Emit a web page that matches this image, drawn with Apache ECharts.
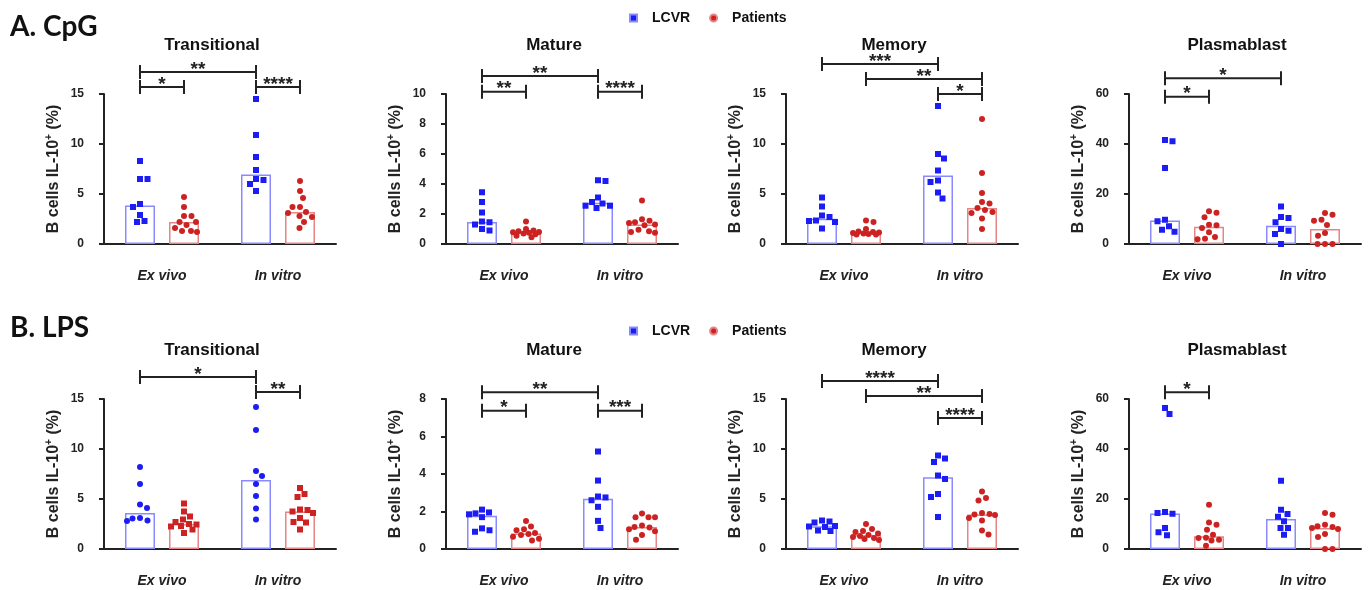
<!DOCTYPE html>
<html>
<head>
<meta charset="utf-8">
<script src="https://cdn.jsdelivr.net/npm/echarts@6/dist/echarts.min.js"></script>
<style>html,body{margin:0;padding:0;background:#fff}#c{width:1370px;height:590px}</style>
</head>
<body>
<div id="c"></div>
<script>
// ---------------- DATA ----------------
const categories = ['Ex vivo', 'In vitro'];
const cellTypes = ['Transitional', 'Mature', 'Memory', 'Plasmablast'];
const rowLabels = ['A. CpG', 'B. LPS'];
const groupNames = ['LCVR', 'Patients'];
const yAxisName = 'B cells IL-10';

// CpG stimulation: [ex vivo values], [in vitro values]
const cpgTransitionalLCVR = [[8.3, 6.5, 6.5, 4.0, 3.7, 2.9, 2.3, 2.2], [14.5, 10.9, 8.7, 7.4, 6.5, 6.4, 6.0, 5.3]];
const cpgTransitionalPatients = [[4.7, 3.7, 2.8, 2.8, 2.2, 2.2, 1.9, 1.6, 1.3, 1.3, 1.2], [6.3, 5.3, 4.6, 3.7, 3.7, 3.2, 3.1, 2.8, 2.7, 2.2, 1.6]];
const cpgMatureLCVR = [[3.45, 2.8, 2.1, 1.5, 1.45, 1.3, 1.0, 0.9], [4.25, 4.2, 3.1, 2.8, 2.7, 2.55, 2.55, 2.4]];
const cpgMaturePatients = [[1.5, 1.0, 0.9, 0.85, 0.8, 0.78, 0.75, 0.7, 0.65, 0.55, 0.45], [2.9, 1.65, 1.55, 1.45, 1.4, 1.3, 1.25, 0.95, 0.85, 0.8, 0.75]];
const cpgMemoryLCVR = [[4.65, 3.75, 2.85, 2.7, 2.35, 2.3, 2.2, 1.55], [13.8, 9.0, 8.55, 7.35, 6.35, 6.2, 5.15, 4.55]];
const cpgMemoryPatients = [[2.35, 2.2, 1.5, 1.25, 1.2, 1.15, 1.1, 1.05, 1.0, 0.95, 0.95], [12.5, 7.1, 5.1, 4.2, 4.05, 3.6, 3.4, 3.2, 3.1, 2.55, 1.5]];
const cpgPlasmablastLCVR = [[41.6, 41.1, 30.4, 9.7, 9.1, 7.1, 5.7, 4.9], [15.0, 10.8, 10.4, 8.7, 6.0, 5.3, 4.0, 0.0]];
const cpgPlasmablastPatients = [[13.1, 12.5, 10.7, 7.7, 7.5, 6.4, 4.7, 2.8, 2.1, 1.9], [12.4, 11.7, 9.7, 9.3, 7.6, 4.4, 3.3, 0.0, 0.0, 0.0]];

// LPS stimulation
const lpsTransitionalLCVR = [[8.2, 6.5, 4.45, 4.1, 3.1, 3.05, 2.85, 2.8], [14.2, 11.9, 7.8, 7.3, 6.5, 5.3, 4.05, 2.95]];
const lpsTransitionalPatients = [[4.55, 3.75, 3.25, 2.95, 2.7, 2.5, 2.45, 2.3, 2.25, 1.95, 1.6], [6.1, 5.5, 5.2, 3.95, 3.9, 3.75, 3.6, 3.1, 2.7, 2.65, 1.95]];
const lpsMatureLCVR = [[2.1, 1.95, 1.9, 1.85, 1.7, 1.1, 1.0, 0.92], [5.2, 3.65, 2.8, 2.75, 2.6, 2.25, 1.5, 1.12]];
const lpsMaturePatients = [[1.5, 1.2, 1.05, 1.0, 0.85, 0.8, 0.75, 0.65, 0.55, 0.45], [1.9, 1.7, 1.7, 1.7, 1.25, 1.17, 1.15, 1.05, 0.95, 0.75, 0.5]];
const lpsMemoryLCVR = [[2.85, 2.75, 2.65, 2.3, 2.25, 2.2, 1.85, 1.8], [9.35, 9.05, 8.7, 7.35, 7.0, 5.5, 5.2, 3.2]];
const lpsMemoryPatients = [[2.5, 2.0, 1.8, 1.7, 1.55, 1.4, 1.3, 1.2, 1.1, 1.0, 0.9], [5.75, 5.1, 4.85, 3.6, 3.5, 3.45, 3.4, 3.1, 2.85, 1.85, 1.45]];
const lpsPlasmablastLCVR = [[56.4, 54.0, 14.8, 14.4, 14.1, 8.4, 6.7, 5.5], [27.3, 15.7, 14.0, 12.9, 11.1, 8.4, 8.4, 5.7]];
const lpsPlasmablastPatients = [[17.7, 10.6, 9.7, 7.7, 5.7, 4.5, 4.4, 3.7, 3.4, 1.3], [14.4, 13.7, 9.7, 9.1, 8.8, 8.4, 8.0, 6.0, 4.8, 0.0, 0.0]];

// y axis ranges
const cpgYMax = [15, 10, 15, 60];
const cpgYStep = [5, 2, 5, 20];
const lpsYMax = [15, 8, 15, 60];
const lpsYStep = [5, 2, 5, 20];

// significance: [from bar, to bar, label, level (data units)]; bars: 0 LCVR ex vivo, 1 Patients ex vivo, 2 LCVR in vitro, 3 Patients in vitro
const cpgTransitionalSig = [[0, 1, '*', 15.7], [0, 2, '**', 17.2], [2, 3, '****', 15.7]];
const cpgMatureSig = [[0, 1, '**', 10.15], [0, 2, '**', 11.2], [2, 3, '****', 10.15]];
const cpgMemorySig = [[0, 2, '***', 18.0], [1, 3, '**', 16.5], [2, 3, '*', 15.0]];
const cpgPlasmablastSig = [[0, 1, '*', 58.9], [0, 2, '*', 66.3]];
const lpsTransitionalSig = [[0, 2, '*', 17.2], [2, 3, '**', 15.7]];
const lpsMatureSig = [[0, 1, '*', 7.38], [0, 2, '**', 8.36], [2, 3, '***', 7.38]];
const lpsMemorySig = [[0, 2, '****', 16.8], [1, 3, '**', 15.3], [2, 3, '****', 13.1]];
const lpsPlasmablastSig = [[0, 1, '*', 62.7]];

// ---------------- LAYOUT / STYLE ----------------
const FONT = '"Liberation Sans", Arial, sans-serif';
const BLUE = '#1c1cf5', RED = '#cc2222', BLUE_BAR = '#8a8aff', RED_BAR = '#e58585', INK = '#222';
const gridLefts = [104, 446, 786, 1129];
const gridW = 232, gridH = 150;
const rowTops = [94, 399];
const barHalfGap = 22; // px from category centre to each bar centre
const symSize = 6;
const swarmMax = 13; // px, max horizontal spread of points

const panels = [
  {row: 0, col: 0, l: cpgTransitionalLCVR, p: cpgTransitionalPatients, sig: cpgTransitionalSig, max: cpgYMax[0], step: cpgYStep[0], sym: ['rect', 'circle']},
  {row: 0, col: 1, l: cpgMatureLCVR, p: cpgMaturePatients, sig: cpgMatureSig, max: cpgYMax[1], step: cpgYStep[1], sym: ['rect', 'circle']},
  {row: 0, col: 2, l: cpgMemoryLCVR, p: cpgMemoryPatients, sig: cpgMemorySig, max: cpgYMax[2], step: cpgYStep[2], sym: ['rect', 'circle']},
  {row: 0, col: 3, l: cpgPlasmablastLCVR, p: cpgPlasmablastPatients, sig: cpgPlasmablastSig, max: cpgYMax[3], step: cpgYStep[3], sym: ['rect', 'circle']},
  {row: 1, col: 0, l: lpsTransitionalLCVR, p: lpsTransitionalPatients, sig: lpsTransitionalSig, max: lpsYMax[0], step: lpsYStep[0], sym: ['circle', 'rect']},
  {row: 1, col: 1, l: lpsMatureLCVR, p: lpsMaturePatients, sig: lpsMatureSig, max: lpsYMax[1], step: lpsYStep[1], sym: ['rect', 'circle']},
  {row: 1, col: 2, l: lpsMemoryLCVR, p: lpsMemoryPatients, sig: lpsMemorySig, max: lpsYMax[2], step: lpsYStep[2], sym: ['rect', 'circle']},
  {row: 1, col: 3, l: lpsPlasmablastLCVR, p: lpsPlasmablastPatients, sig: lpsPlasmablastSig, max: lpsYMax[3], step: lpsYStep[3], sym: ['rect', 'circle']}
];

function median(a) {
  const s = a.slice().sort((x, y) => x - y);
  const n = s.length;
  return n % 2 ? s[(n - 1) / 2] : (s[n / 2 - 1] + s[n / 2]) / 2;
}
// simple bounded beeswarm: returns x offsets in px
function swarm(vals, pxPerUnit, d) {
  const order = vals.map((v, i) => i).sort((a, b) => vals[b] - vals[a]);
  const placed = [];
  const offs = new Array(vals.length).fill(0);
  let flip = 1;
  for (const i of order) {
    const y = vals[i] * pxPerUnit;
    let chosen = null, bestC = 0, bestD = -1;
    for (let s = 0; s <= swarmMax && chosen === null; s += 0.5) {
      const cands = s === 0 ? [0] : [flip * s, -flip * s];
      for (const c of cands) {
        let md = Infinity;
        placed.forEach(q => { md = Math.min(md, Math.hypot(q.x - c, q.y - y)); });
        if (md >= d) { chosen = c; break; }
        if (md > bestD + 0.01) { bestD = md; bestC = c; }
      }
    }
    if (chosen === null) chosen = bestC;
    if (chosen !== 0) flip = -Math.sign(chosen);
    placed.push({x: chosen, y: y});
    offs[i] = chosen;
  }
  return offs;
}

const unitPx = gridW / 4; // value axis 0..4
function barCenterVal(b) { // b: 0..3
  const cat = b >> 1, grp = b & 1;
  return cat * 2 + 1 + (grp ? 1 : -1) * barHalfGap / unitPx;
}

const grid = [], xAxis = [], yAxis = [], series = [], graphic = [];
panels.forEach((pn, k) => {
  const left = gridLefts[pn.col], top = rowTops[pn.row];
  grid.push({left: left, top: top, width: gridW, height: gridH, containLabel: false, outerBoundsMode: 'none'});
  xAxis.push({
    type: 'category', gridIndex: k, data: categories, offset: 17,
    axisLine: {lineStyle: {color: INK, width: 2}},
    axisTick: {alignWithLabel: true, length: 6, lineStyle: {color: INK, width: 2}},
    axisLabel: {color: INK, fontFamily: FONT, fontSize: 14, fontWeight: 'bold', fontStyle: 'italic', margin: 8}
  });
  xAxis.push({type: 'value', gridIndex: k, min: 0, max: 4, show: false});
  yAxis.push({
    type: 'value', gridIndex: k, min: 0, max: pn.max, interval: pn.step, offset: 16,
    name: yAxisName + '{sup|+} (%)', nameLocation: 'middle', nameGap: 25,
    nameTextStyle: {color: INK, fontFamily: FONT, fontSize: 16, fontWeight: 'bold',
      rich: {sup: {fontSize: 10, fontWeight: 'bold', fontFamily: FONT, color: INK, verticalAlign: 'top', padding: [0, 0, 9, 0]}}},
    axisLine: {show: true, lineStyle: {color: INK, width: 2}},
    axisTick: {show: true, length: 5, lineStyle: {color: INK, width: 2}},
    axisLabel: {color: INK, fontFamily: FONT, fontSize: 12, fontWeight: 'bold', margin: 4},
    splitLine: {show: false}
  });
  const pxPerUnit = gridH / pn.max;
  [pn.l, pn.p].forEach((grpData, g) => {
    series.push({
      type: 'bar', name: groupNames[g], xAxisIndex: 2 * k, yAxisIndex: k,
      data: grpData.map(median), barWidth: 30, barGap: ((2 * barHalfGap - 30) / 30 * 100) + '%',
      itemStyle: {color: 'rgba(0,0,0,0)', borderColor: g ? RED_BAR : BLUE_BAR, borderWidth: 1.5},
      silent: true, z: 1
    });
  });
  [pn.l, pn.p].forEach((grpData, g) => {
    const pts = [];
    grpData.forEach((vals, c) => {
      const offs = swarm(vals, pxPerUnit, symSize + 1.5);
      vals.forEach((v, i) => pts.push([barCenterVal(c * 2 + g) + offs[i] / unitPx, v]));
    });
    series.push({
      type: 'scatter', name: groupNames[g], xAxisIndex: 2 * k + 1, yAxisIndex: k,
      data: pts, symbol: pn.sym[g], symbolSize: symSize,
      itemStyle: {color: g ? RED : BLUE, opacity: 1}, silent: true, z: 3, clip: false
    });
  });
  const sig = pn.sig;
  series.push({
    type: 'custom', xAxisIndex: 2 * k + 1, yAxisIndex: k, clip: false, silent: true, z: 4,
    data: sig.map(s => [barCenterVal(s[0]), barCenterVal(s[1]), s[3]]),
    renderItem: function (params, api) {
      const s = sig[params.dataIndex];
      const p1 = api.coord([api.value(0), api.value(2)]);
      const p2 = api.coord([api.value(1), api.value(2)]);
      const t = 7, st = {stroke: INK, lineWidth: 2};
      return {type: 'group', children: [
        {type: 'line', shape: {x1: p1[0], y1: p1[1] - t, x2: p1[0], y2: p1[1] + t}, style: st},
        {type: 'line', shape: {x1: p2[0], y1: p2[1] - t, x2: p2[0], y2: p2[1] + t}, style: st},
        {type: 'line', shape: {x1: p1[0], y1: p1[1], x2: p2[0], y2: p2[1]}, style: st},
        {type: 'text', x: (p1[0] + p2[0]) / 2, y: p1[1] + 7,
          style: {text: s[2], textAlign: 'center', textVerticalAlign: 'bottom', fill: INK,
            fontFamily: FONT, fontSize: 19, fontWeight: 'bold'}}
      ]};
    }
  });
  graphic.push({type: 'text', x: left + 108, y: top - 49, z: 10,
    style: {text: cellTypes[pn.col], textAlign: 'center', textVerticalAlign: 'middle', fill: '#111',
      fontFamily: FONT, fontSize: 17, fontWeight: 'bold'}});
});
graphic.push({type: 'text', x: 10, y: 27, style: {text: rowLabels[0], textAlign: 'left', textVerticalAlign: 'middle', fill: '#111', fontFamily: 'Lato', fontSize: 28, fontWeight: 'bold'}});
graphic.push({type: 'text', x: 10, y: 328, style: {text: rowLabels[1], textAlign: 'left', textVerticalAlign: 'middle', fill: '#111', fontFamily: 'Lato', fontSize: 28, fontWeight: 'bold'}});

const legendBase = {
  left: 624, itemWidth: 7, itemHeight: 7, itemGap: 19,
  textStyle: {fontFamily: FONT, fontSize: 14, fontWeight: 'bold', color: '#111', padding: [0, 0, 0, 10]},
  data: [{name: 'LCVR', icon: 'rect', itemStyle: {color: BLUE}}, {name: 'Patients', icon: 'circle', itemStyle: {color: RED}}],
  selectedMode: false
};
const legend = [Object.assign({top: 6}, legendBase), Object.assign({top: 319}, legendBase)];

const chart = echarts.init(document.getElementById('c'), null, {renderer: 'canvas'});
chart.setOption({
  animation: false, backgroundColor: '#fff',
  grid: grid, xAxis: xAxis, yAxis: yAxis, series: series, legend: legend, graphic: graphic
});
</script>
</body>
</html>
